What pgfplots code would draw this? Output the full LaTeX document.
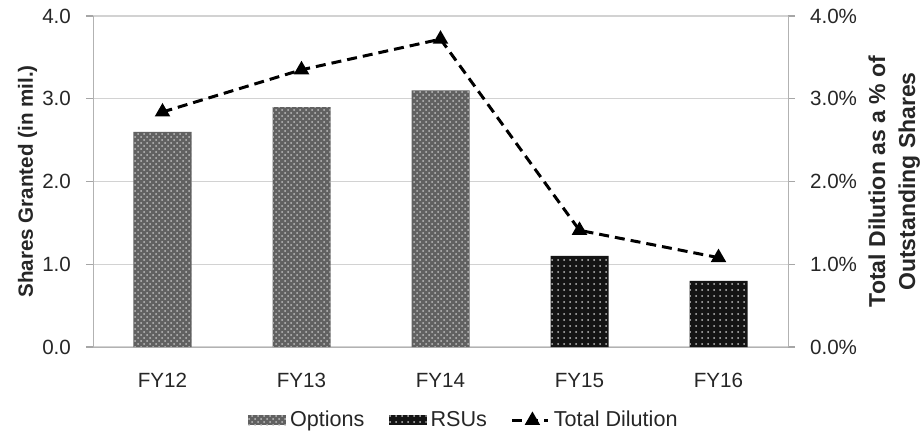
\documentclass[border=0pt]{standalone}
\usepackage{fontspec}
\setmainfont{Liberation Sans}
\usepackage{pgfplots}
\pgfplotsset{compat=1.18}
\usetikzlibrary{patterns}

\pgfplotsset{
  barlegend/.style={legend image code/.code={\fill[##1] (0pt,-2.5pt) rectangle (19pt,2.5pt);}},
  linelegend/.style={legend image code/.code={%
    \draw[##1, mark=none] (0pt,0pt) -- (18pt,0pt);
    \draw[##1, solid] plot coordinates {(10pt,0pt)};}},
}

\begin{document}
\begin{tikzpicture}
  \pgfplotsset{
    every axis/.append style={
      scale only axis,
      width=347.5pt, height=165.5pt,
      xmin=-0.5, xmax=4.5,
      ymin=0, ymax=4,
      ytick={0,1,2,3,4},
      tick align=outside,
      major tick length=3.5pt,
      axis line style={draw=gray!60},
      every tick/.style={draw=gray!70, line width=0.6pt},
      tick label style={font=\fontsize{10.3}{12}\selectfont, text=black!85},
      label style={font=\fontsize{10.3}{12}\selectfont\bfseries, text=black!85},
      /pgf/number format/assume math mode=true,
    },
  }
  % bars (left axis)
  \begin{axis}[
    name=ax,
    axis x line*=bottom, axis y line*=left,
    ymajorgrids,
    grid style={draw=gray!35, line width=0.6pt},
    xtick={0,1,2,3,4},
    xticklabels={FY12,FY13,FY14,FY15,FY16},
    xtick style={draw=none},
    extra x ticks={-0.5,0.5,1.5,2.5,3.5,4.5},
    extra x tick labels={},
    extra x tick style={tick style={draw=gray!70, line width=0.6pt}, major tick length=4pt},
    xticklabel style={yshift=-6pt},
    yticklabel={\pgfmathprintnumber[fixed,fixed zerofill,precision=1]{\tick}},
    yticklabel style={xshift=-4pt},
    ylabel={Shares Granted (in mil.)},
    ylabel style={at={(axis description cs:-0.094,0.5)}, anchor=center},
    legend columns=3,
    legend style={
      at={(axis description cs:0.535,-0.222)}, anchor=center,
      draw=none, fill=none,
      font=\fontsize{10.8}{13}\selectfont, text=black!85,
      /tikz/every even column/.append style={column sep=10pt},
    },
    legend cell align=left,
  ]
    \addplot[ybar, bar width=29pt, bar shift=0pt, draw=none,
      fill=black!62, postaction={pattern=crosshatch dots, pattern color=white!75!black},
      barlegend]
      coordinates {(0,2.6) (1,2.9) (2,3.1)};
    \addlegendentry{Options}
    \addplot[ybar, bar width=29pt, bar shift=0pt, draw=none,
      fill=black!92, postaction={pattern=dots, pattern color=white!75!black},
      barlegend]
      coordinates {(3,1.1) (4,0.8)};
    \addlegendentry{RSUs}
    \addlegendimage{black, line width=1.5pt, dash pattern=on 5pt off 3pt,
      mark=triangle*, mark size=3pt, linelegend}
    \addlegendentry{Total Dilution}
  \end{axis}
  % line (right axis)
  \begin{axis}[
    axis y line*=right, axis x line=none,
    yticklabel={\pgfmathprintnumber[fixed,fixed zerofill,precision=1]{\tick}\%},
    yticklabel style={xshift=4pt},
    ylabel={Total Dilution as a \% of\\Outstanding Shares},
    ylabel style={align=center, font=\fontsize{11.5}{15}\selectfont\bfseries,
      at={(axis description cs:1.153,0.5)}, anchor=center},
  ]
    \addplot[black, line width=1.5pt, dash pattern=on 5pt off 3pt,
      mark=triangle*, mark size=3pt, mark options={solid}]
      coordinates {(0,2.84) (1,3.35) (2,3.72) (3,1.41) (4,1.08)};
  \end{axis}
  \pgfresetboundingbox
  \path ([xshift=-46.5pt,yshift=-43.5pt]ax.south west) rectangle ([xshift=66pt,yshift=8pt]ax.north east);
\end{tikzpicture}
\end{document}
